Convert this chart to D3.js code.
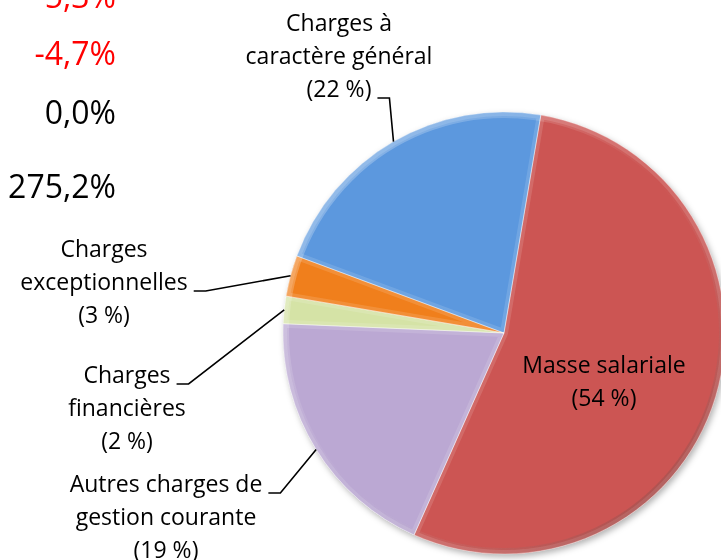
<!DOCTYPE html>
<html><head><meta charset="utf-8">
<script src="https://cdn.jsdelivr.net/npm/d3@7"></script>
<style>
html,body{margin:0;padding:0;background:#fff;overflow:hidden;}
svg{display:block;font-family:"Open Sans",sans-serif;}
</style></head>
<body>
<svg id="chart" width="721" height="560"></svg>
<script>
// ---- data ----
const categories = ["Masse salariale", "Autres charges de gestion courante", "Charges financières", "Charges exceptionnelles", "Charges à caractère général"];
const values = [54, 19, 2, 3, 22];
const labelLines = [
  ["Masse salariale", "(54 %)"],
  ["Autres charges de", "gestion courante", "(19 %)"],
  ["Charges", "financières", "(2 %)"],
  ["Charges", "exceptionnelles", "(3 %)"],
  ["Charges à", "caractère général", "(22 %)"]
];
const colors = ["#CC5552", "#BBA8D3", "#D5E3A6", "#F07F1C", "#5B98DE"];
const sideTexts = ["-5,3%", "-4,7%", "0,0%", "275,2%"];
const sideColors = ["#FF0000", "#FF0000", "#000000", "#000000"];

// ---- layout ----
const W = 721, H = 560;
const cx = 504, cy = 333, R = 221;
const startDeg = 9.6;
const lineH = 33;
const labelLayout = [
  {x: 604, y: 373, attach: -1},
  {x: 166, y: 492, attach: 0},
  {x: 127, y: 383, attach: 0},
  {x: 104, y: 257, attach: 1},
  {x: 339, y: 31, attach: 2}
];
const sideLayout = {x: 116, ys: [8, 65, 124, 198], size: 32};

const svg = d3.select("#chart");
const defs = svg.append("defs");
const f = defs.append("filter").attr("id", "shadow").attr("x", "-10%").attr("y", "-10%").attr("width", "130%").attr("height", "130%");
f.append("feDropShadow").attr("dx", 2).attr("dy", 3).attr("stdDeviation", 3).attr("flood-color", "#000").attr("flood-opacity", 0.3);

const rg = defs.append("linearGradient").attr("id", "rim")
  .attr("x1", "0%").attr("y1", "0%").attr("x2", "100%").attr("y2", "100%");
rg.append("stop").attr("offset", "0%").attr("stop-color", "#fff").attr("stop-opacity", 0.35);
rg.append("stop").attr("offset", "50%").attr("stop-color", "#fff").attr("stop-opacity", 0.0);
rg.append("stop").attr("offset", "100%").attr("stop-color", "#000").attr("stop-opacity", 0.3);

const data = categories.map((c, i) => ({name: c, value: values[i], i}));
const pie = d3.pie().sort(null).value(d => d.value)
  .startAngle(startDeg * Math.PI / 180)
  .endAngle(startDeg * Math.PI / 180 + 2 * Math.PI);
const arcs = pie(data);
const arc = d3.arc().innerRadius(0).outerRadius(R);
const rimArc = d3.arc().innerRadius(R).outerRadius(R);
const edgeArc = d3.arc().innerRadius(0).outerRadius(R - 4);

const g = svg.append("g").attr("transform", `translate(${cx},${cy})`);
const slices = g.append("g").attr("filter", "url(#shadow)");

arcs.forEach((a, k) => {
  defs.append("clipPath").attr("id", "clip" + k).append("path").attr("d", arc(a));
});

const sg = slices.selectAll("g.slice").data(arcs).join("g").attr("class", "slice");
sg.append("path").attr("d", arc).attr("fill", d => colors[d.data.i]);
// bevel: soft light band along the slice edges
sg.append("path").attr("d", arc).attr("fill", "none")
  .attr("stroke", "#fff").attr("stroke-opacity", 0.13).attr("stroke-width", 8)
  .attr("stroke-linejoin", "round")
  .attr("clip-path", (d, k) => `url(#clip${k})`);
// rim shading: light top-left, darker bottom-right
g.append("circle").attr("r", R - 3).attr("fill", "none")
  .attr("stroke", "url(#rim)").attr("stroke-width", 6);
// thin separators
g.append("g").selectAll("path").data(arcs).join("path")
  .attr("d", arc).attr("fill", "none")
  .attr("stroke", "#fff").attr("stroke-opacity", 0.35).attr("stroke-width", 1);

// labels
const lbl = svg.append("g").attr("font-size", 23).attr("fill", "#000");
arcs.forEach((a, k) => {
  const L = labelLayout[a.data.i];
  const lines = labelLines[a.data.i];
  const t = lbl.append("g");
  const texts = lines.map((s, j) => t.append("text")
    .attr("x", L.x).attr("y", L.y + j * lineH)
    .attr("text-anchor", "middle").text(s));
  if (L.attach >= 0) {
    const node = texts[L.attach].node();
    const w = node.getComputedTextLength();
    const x0 = L.x + w / 2 + 6;
    const y0 = L.y + L.attach * lineH + 1;
    const p = rimArc.centroid(a);
    const px = cx + p[0], py = cy + p[1];
    svg.append("path")
      .attr("d", d3.line()([[x0, y0], [x0 + 12, y0], [px, py]]))
      .attr("fill", "none").attr("stroke", "#000").attr("stroke-width", 1.6);
  }
});

// side percentages
svg.append("g").selectAll("text").data(sideTexts).join("text")
  .attr("x", sideLayout.x).attr("y", (d, i) => sideLayout.ys[i])
  .attr("text-anchor", "end").attr("font-size", sideLayout.size)
  .attr("fill", (d, i) => sideColors[i]).text(d => d);
</script>
</body></html>
